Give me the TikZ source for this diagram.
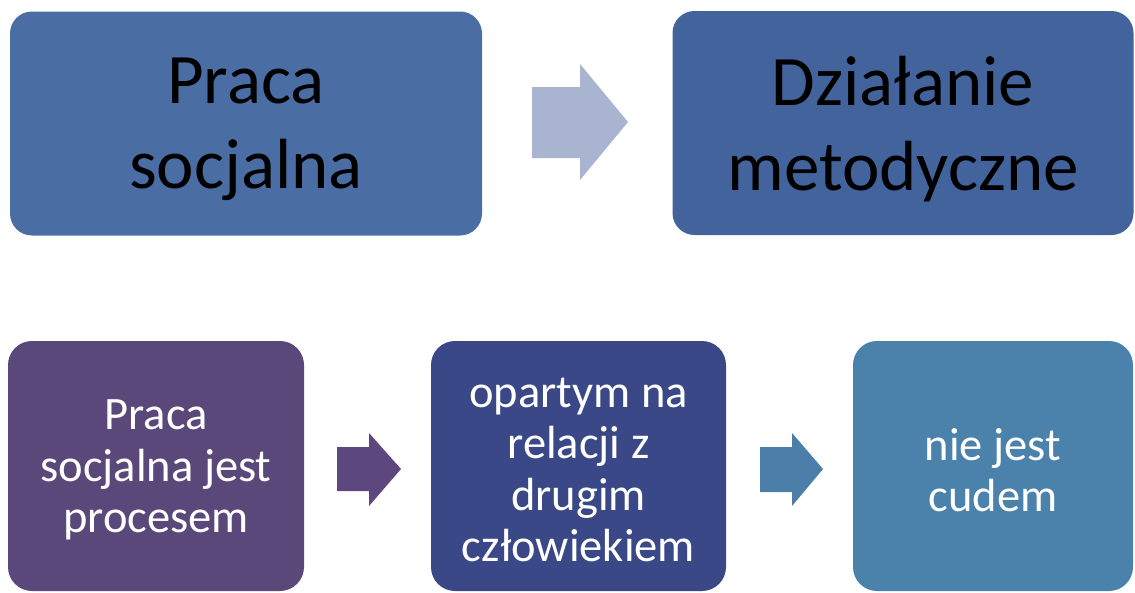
\documentclass[tikz,border=0pt]{standalone}
\usepackage{fontspec}
\setmainfont{Carlito}
\definecolor{boxA}{RGB}{74,109,164}
\definecolor{boxB}{RGB}{66,99,156}
\definecolor{arrA}{RGB}{168,180,208}
\definecolor{boxP}{RGB}{90,72,122}
\definecolor{boxN}{RGB}{58,72,136}
\definecolor{boxT}{RGB}{75,130,172}
\definecolor{arrP}{RGB}{92,72,126}
\definecolor{arrT}{RGB}{76,126,170}
\tikzset{
  topbox/.style={rounded corners=22pt, inner sep=0pt},
  toptext/.style={inner sep=0pt, align=center, text=black, yshift=-6pt,
    font=\fontsize{71}{85}\selectfont},
  botbox/.style={rounded corners=24pt, inner sep=0pt},
  bottext/.style={inner sep=0pt, align=center, text=white, yshift=-4pt,
    font=\fontsize{46.5}{51.5}\selectfont},
}
\begin{document}
\begin{tikzpicture}[x=1pt,y=-1pt]
\useasboundingbox (0,0) rectangle (1135,592);
% top row
\node[topbox, fill=boxA, minimum width=472pt, minimum height=224pt] (ps) at (246,123.5) {};
\node[toptext] (pst) at (ps.center) {Praca\\socjalna};
\node[topbox, fill=boxB, minimum width=461pt, minimum height=224pt] (dm) at (903,123) {};
\node[toptext] (dmt) at (dm.center) {Działanie\\metodyczne};
% bottom row
\node[botbox, fill=boxP, minimum width=296pt, minimum height=250pt] (pr) at (156,466) {};
\node[bottext] (prt) at (pr.center) {Praca\\socjalna jest\\procesem};
\node[botbox, fill=boxN, minimum width=295pt, minimum height=250pt] (op) at (578.5,466) {};
\node[bottext] (opt) at (op.center) {opartym na\\relacji z\\drugim\\człowiekiem};
\node[botbox, fill=boxT, minimum width=280pt, minimum height=250pt] (nc) at (993,466) {};
\node[bottext] (nct) at (nc.center) {nie jest\\cudem};
% block arrows
\fill[arrA] (532,87) -- (580,87) -- (580,64) -- (628,122) -- (580,180) -- (580,158) -- (532,158) -- cycle;
\fill[arrP] (337,447) -- (369,447) -- (369,433) -- (401,469) -- (369,506) -- (369,491) -- (337,491) -- cycle;
\fill[arrT] (760,447) -- (792,447) -- (792,433) -- (823,469) -- (792,506) -- (792,492) -- (760,492) -- cycle;
\end{tikzpicture}
\end{document}
